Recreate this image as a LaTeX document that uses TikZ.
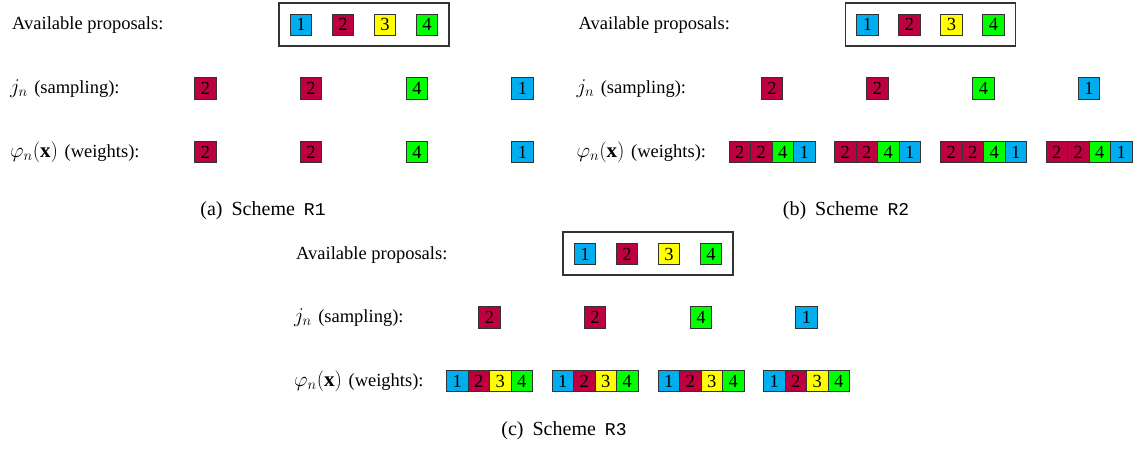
\RequirePackage{fix-cm}
\documentclass[tikz,border=0pt]{standalone}
\usepackage{fontspec}
\setmainfont{Liberation Serif}
\setmonofont{Liberation Mono}
\definecolor{pA}{RGB}{0,174,239}
\definecolor{pB}{RGB}{191,0,64}
\definecolor{pC}{RGB}{255,255,0}
\definecolor{pD}{RGB}{0,255,0}
\newcommand\dfont{\fontsize{18.5}{22}\selectfont}
\newcommand\bigmath[1]{{\fontsize{21}{24}\selectfont$#1$}}
\begin{document}
\begin{tikzpicture}[x=1pt,y=-1pt,
  lbl/.style={anchor=base west, inner sep=0pt, font=\dfont},
  cell/.style={draw=black!80, line width=0.7pt, minimum width=21.5pt, minimum height=21.5pt,
    inner sep=0pt, font=\dfont, text height=12.4pt, text depth=0pt},
  k1/.style={cell, fill=pA},
  k2/.style={cell, fill=pB},
  k3/.style={cell, fill=pC},
  k4/.style={cell, fill=pD},
  pool/.style={draw=black!80, line width=1.2pt, minimum width=170pt, minimum height=43pt, inner sep=0pt},
  captxt/.style={anchor=base, inner sep=0pt, font=\fontsize{20}{24}\selectfont}]
\useasboundingbox (0,0) rectangle (1138,452);
\foreach \p/\dx/\dy/\mode in {a/0/0/1, b/566.5/0/2, c/284/229/3}{
  \begin{scope}[shift={(\dx,\dy)}]
    \node[lbl] (\p-l1) at (12,30) {Available proposals:};
    \node[lbl] (\p-l2) at (10,93.5) {\bigmath{j_n}\hspace{0.35em}(sampling):};
    \node[lbl] (\p-l3) at (10,157) {\bigmath{\varphi_n(\mathbf{x})}\hspace{0.35em}(weights):};
    \node[pool] (\p-pool) at (364,24.5) {};
    \foreach \i/\x in {1/301,2/343,3/385,4/427}{
      \node[k\i] (\p-av\i) at (\x,24.8) {\i};
    }
    \foreach \j/\x/\s in {1/205.5/2,2/311/2,3/417/4,4/522.5/1}{
      \node[k\s] (\p-s\j) at (\x,88.5) {\s};
      \ifcase\mode
      \or
        \node[k\s] (\p-w\j) at (\x,152) {\s};
      \or
        \node[k2] (\p-w\j a) at (\x-32.25,152) {2};
        \node[k2] (\p-w\j b) at (\x-10.75,152) {2};
        \node[k4] (\p-w\j c) at (\x+10.75,152) {4};
        \node[k1] (\p-w\j d) at (\x+32.25,152) {1};
      \or
        \node[k1] (\p-w\j a) at (\x-32.25,152) {1};
        \node[k2] (\p-w\j b) at (\x-10.75,152) {2};
        \node[k3] (\p-w\j c) at (\x+10.75,152) {3};
        \node[k4] (\p-w\j d) at (\x+32.25,152) {4};
      \fi
    }
  \end{scope}
}
\node[captxt] (capa) at (263,215) {(a)\hspace{0.45em}Scheme\hspace{0.45em}{\ttfamily\fontsize{18}{22}\selectfont R1}};
\node[captxt] (capb) at (846,215) {(b)\hspace{0.45em}Scheme\hspace{0.45em}{\ttfamily\fontsize{18}{22}\selectfont R2}};
\node[captxt] (capc) at (564,435) {(c)\hspace{0.45em}Scheme\hspace{0.45em}{\ttfamily\fontsize{18}{22}\selectfont R3}};
\end{tikzpicture}
\end{document}
